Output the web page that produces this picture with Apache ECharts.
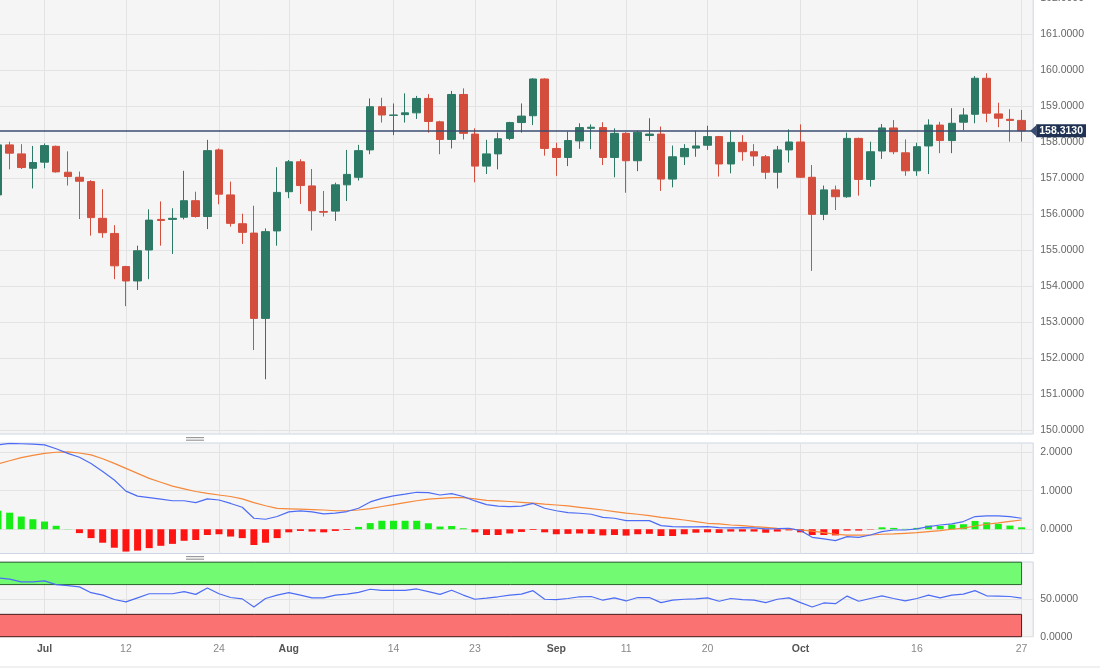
<!DOCTYPE html>
<html><head><meta charset="utf-8">
<script src="https://cdn.jsdelivr.net/npm/echarts@6/dist/echarts.min.js"></script>
<style>html,body{margin:0;padding:0;background:#fff}#c{width:1100px;height:668px}</style>
</head><body><div id="c"></div>
<script>
const dates = ['Jun 27','Jun 28','Jun 29','Jun 30','Jul 3','Jul 4','Jul 5','Jul 6','Jul 7','Jul 10','Jul 11','Jul 12','Jul 13','Jul 14','Jul 17','Jul 18','Jul 19','Jul 20','Jul 21','Jul 24','Jul 25','Jul 26','Jul 27','Jul 28','Jul 31','Aug 1','Aug 2','Aug 3','Aug 4','Aug 7','Aug 8','Aug 9','Aug 10','Aug 11','Aug 14','Aug 15','Aug 16','Aug 17','Aug 18','Aug 21','Aug 22','Aug 23','Aug 24','Aug 25','Aug 28','Aug 29','Aug 30','Aug 31','Sep 1','Sep 4','Sep 5','Sep 6','Sep 7','Sep 8','Sep 11','Sep 12','Sep 13','Sep 14','Sep 15','Sep 18','Sep 19','Sep 20','Sep 21','Sep 22','Sep 25','Sep 26','Sep 27','Sep 28','Sep 29','Oct 2','Oct 3','Oct 4','Oct 5','Oct 6','Oct 9','Oct 10','Oct 11','Oct 12','Oct 13','Oct 16','Oct 17','Oct 18','Oct 19','Oct 20','Oct 23','Oct 24','Oct 25','Oct 26','Oct 27'];

const opens = [156.53,157.92,157.67,157.27,157.44,157.88,157.16,157.02,156.90,155.88,155.46,154.54,154.14,155.00,155.85,155.85,155.91,156.37,155.93,157.78,156.53,155.73,155.47,153.10,155.53,156.62,157.45,156.78,156.07,156.08,156.81,157.02,157.78,158.98,158.74,158.76,158.81,159.21,158.56,158.07,159.32,158.22,157.33,157.67,158.10,158.54,158.73,159.75,157.82,157.57,158.03,158.38,158.40,157.57,158.24,157.48,158.18,158.22,156.97,157.59,157.83,157.91,158.15,157.39,157.99,157.73,157.59,157.16,157.78,158.00,157.02,155.99,156.67,156.48,158.10,156.96,157.75,158.39,157.70,157.20,157.89,158.47,158.04,158.55,158.77,159.77,158.78,158.63,158.60];
const closes = [157.92,157.69,157.29,157.43,157.90,157.17,157.04,156.91,155.90,155.48,154.56,154.14,154.98,155.83,155.82,155.88,156.37,155.93,157.76,156.55,155.74,155.49,153.10,155.51,156.60,157.45,156.79,156.09,156.05,156.81,157.10,157.76,158.98,158.75,158.75,158.81,159.21,158.57,158.07,159.32,158.24,157.33,157.67,158.09,158.54,158.72,159.75,157.82,157.57,158.04,158.40,158.41,157.57,158.24,157.48,158.27,158.22,156.97,157.59,157.82,157.89,158.15,157.39,157.99,157.73,157.61,157.16,157.78,158.00,157.02,155.99,156.67,156.48,158.10,156.96,157.73,158.39,157.73,157.20,157.87,158.47,158.04,158.52,158.75,159.77,158.80,158.66,158.60,158.313];
const lows = [156.35,157.24,157.25,156.71,157.27,157.15,156.79,155.86,155.40,155.34,154.19,153.44,153.89,154.19,155.12,154.89,155.85,155.90,155.58,156.27,155.65,155.17,152.22,151.41,155.12,156.44,156.28,155.54,155.93,155.81,156.36,156.93,157.66,158.54,158.19,158.54,158.64,158.26,157.66,157.82,158.07,156.88,157.11,157.24,158.05,158.26,158.47,157.62,157.06,157.33,157.81,157.80,157.36,157.02,156.59,157.19,158.03,156.64,156.74,157.36,157.59,157.78,157.04,157.13,157.48,157.33,156.97,156.71,157.43,157.00,154.42,155.83,156.11,156.45,156.51,156.76,157.53,157.66,157.06,157.06,157.11,157.69,157.69,158.33,158.52,158.55,158.41,158.01,158.01];
const highs = [158.05,158.01,157.94,157.89,157.96,157.90,157.74,157.18,156.94,156.69,155.69,154.56,155.12,156.13,156.35,156.16,157.20,156.62,158.06,157.82,156.90,156.01,156.23,155.60,157.30,157.50,157.52,157.25,156.64,156.87,157.78,157.92,159.21,159.23,159.07,159.35,159.28,159.33,158.59,159.42,159.49,158.38,158.06,158.26,158.56,159.07,159.77,159.77,157.98,158.29,158.52,158.49,158.55,158.38,158.27,158.31,158.66,158.43,157.90,157.94,158.31,158.45,158.17,158.31,158.19,157.94,157.64,157.89,158.35,158.49,157.36,156.79,156.79,158.26,158.12,158.01,158.50,158.61,158.07,157.98,158.63,158.56,158.94,158.94,159.83,159.91,159.09,158.91,158.89];

const macdLine = [2.19,2.23,2.22,2.21,2.19,2.09,1.97,1.87,1.71,1.50,1.28,0.99,0.86,0.82,0.78,0.74,0.74,0.69,0.79,0.76,0.67,0.57,0.285,0.26,0.33,0.45,0.475,0.45,0.40,0.42,0.46,0.545,0.71,0.80,0.865,0.91,0.96,0.95,0.89,0.925,0.85,0.735,0.64,0.60,0.59,0.60,0.67,0.545,0.48,0.43,0.415,0.39,0.31,0.285,0.225,0.225,0.225,0.095,0.07,0.06,0.06,0.07,0.04,0.035,0.04,0.035,0.01,0.015,0.025,-0.035,-0.21,-0.25,-0.295,-0.19,-0.21,-0.15,-0.06,-0.02,-0.02,0.01,0.07,0.11,0.14,0.20,0.33,0.345,0.345,0.33,0.285];
const signalLine = [1.70,1.78,1.86,1.92,1.97,2.00,2.01,1.98,1.93,1.83,1.71,1.58,1.45,1.32,1.22,1.12,1.05,0.98,0.93,0.89,0.85,0.79,0.69,0.61,0.54,0.53,0.52,0.51,0.50,0.48,0.48,0.50,0.535,0.59,0.64,0.69,0.74,0.78,0.80,0.82,0.82,0.79,0.75,0.735,0.72,0.70,0.68,0.65,0.63,0.605,0.57,0.535,0.50,0.46,0.42,0.39,0.355,0.31,0.275,0.24,0.20,0.155,0.14,0.11,0.095,0.07,0.05,0.025,0.01,-0.02,-0.05,-0.09,-0.13,-0.155,-0.155,-0.15,-0.13,-0.12,-0.105,-0.09,-0.06,-0.035,0.0,0.03,0.085,0.13,0.165,0.205,0.24];
const histogram = [0.48,0.43,0.33,0.26,0.20,0.09,0.005,-0.10,-0.23,-0.35,-0.48,-0.58,-0.555,-0.49,-0.43,-0.38,-0.30,-0.28,-0.15,-0.13,-0.19,-0.23,-0.41,-0.35,-0.23,-0.08,-0.044,-0.06,-0.08,-0.044,-0.02,0.06,0.16,0.22,0.22,0.22,0.22,0.155,0.07,0.085,0.025,-0.08,-0.15,-0.15,-0.11,-0.07,-0.02,-0.08,-0.13,-0.12,-0.11,-0.12,-0.16,-0.15,-0.165,-0.13,-0.12,-0.175,-0.175,-0.13,-0.09,-0.08,-0.095,-0.06,-0.06,-0.06,-0.09,-0.06,-0.03,-0.08,-0.15,-0.15,-0.16,-0.035,-0.035,-0.01,0.05,0.035,0.01,0.035,0.095,0.085,0.12,0.13,0.215,0.18,0.14,0.095,0.05];
const rsi = [79.0,77.2,73.6,73.6,74.9,70.0,68.7,66.9,59.1,55.9,49.9,46.7,52.2,57.7,57.7,57.7,60.5,56.8,65.5,57.7,52.6,50.8,39.8,51.3,55.9,59.1,55.9,52.2,52.2,55.9,57.2,59.5,63.7,62.3,62.3,62.3,64.1,60.5,56.8,62.3,55.9,50.3,51.7,53.6,55.9,57.2,61.8,50.3,49.9,51.3,53.6,54.0,49.0,52.2,48.0,52.6,52.6,45.7,49.0,50.3,50.8,52.2,47.6,51.3,49.9,49.0,45.7,50.3,52.2,45.7,39.8,45.3,44.4,54.5,47.6,51.3,54.9,51.3,48.0,51.3,55.9,52.2,55.9,57.2,61.8,54.9,54.5,54.0,51.7];

const priceTicks = [150,151,152,153,154,155,156,157,158,159,160,161,162];
const macdTicks = [0,1,2];
const rsiTicks = [0,50];
const rsiOverbought = [70,100];
const rsiOversold = [0,30];
const tickDates = ['Jul 3','Jul 12','Jul 24','Aug 1','Aug 14','Aug 23','Sep 1','Sep 11','Sep 20','Oct 2','Oct 16','Oct 27'];
const tickLabels = ['Jul','12','24','Aug','14','23','Sep','11','20','Oct','16','27'];
const lastPrice = 158.313;

const axisCats = dates.concat(['']);
const labelOf = {};
tickDates.forEach((d,i)=>{ labelOf[d] = tickLabels[i]; });
const isTick = (i) => labelOf[axisCats[i]] !== undefined;

const FONT = 'Arial, "Liberation Sans", Helvetica, sans-serif';
const GREEN = '#2c7a65', RED = '#d44e3e';
const gridStyle = {show:true, backgroundColor:'#f5f5f5', borderColor:'#cdd6e4', borderWidth:1, left:-2, right:66.8, containLabel:false, outerBoundsMode:'none'};

function xAx(gi, showLabel){
  return {type:'category', gridIndex:gi, data:axisCats, boundaryGap:false,
    axisLine:{show:false}, axisTick:{show:false},
    splitLine:{show:true, interval:(i)=>isTick(i), lineStyle:{color:'#e3e3e3', width:1}},
    axisLabel:{show:showLabel, interval:(i)=>isTick(i), margin:7, fontFamily:FONT, fontSize:10.5, hideOverlap:false,
      formatter:(v)=>{ const l = labelOf[v]; if(l===undefined) return ''; return /[A-Za-z]/.test(l) ? '{m|'+l+'}' : '{d|'+l+'}'; },
      rich:{m:{fontWeight:'bold', color:'#555', fontSize:10.5, fontFamily:FONT}, d:{color:'#888', fontSize:10.5, fontFamily:FONT}}}
  };
}
function yAx(gi, min, max, ticks){
  return {type:'value', gridIndex:gi, position:'right', min, max,
    axisLine:{show:false}, axisTick:{show:false, customValues:ticks},
    axisLabel:{customValues:ticks, margin:7, color:'#666', fontSize:10.5, fontFamily:FONT, hideOverlap:false, formatter:(v)=>v.toFixed(4)},
    splitLine:{show:true, lineStyle:{color:'#e3e3e3', width:1}}
  };
}

const chart = echarts.init(document.getElementById('c'), null, {renderer:'canvas'});
chart.setOption({
  animation:false,
  backgroundColor:'#ffffff',
  grid:[
    Object.assign({top:-10, height:444}, gridStyle),
    Object.assign({top:443, height:110.5}, gridStyle),
    Object.assign({top:562, height:74.7}, gridStyle)
  ],
  xAxis:[xAx(0,false), xAx(1,false), xAx(2,true)],
  yAxis:[yAx(0,149.8889,162.2222,priceTicks), yAx(1,-0.63,2.24,macdTicks), yAx(2,0,100.3,rsiTicks)],
  series:[
    {type:'candlestick', xAxisIndex:0, yAxisIndex:0, barWidth:8,
      data: dates.map((d,i)=>[opens[i],closes[i],lows[i],highs[i]]),
      itemStyle:{color:GREEN, color0:RED, borderColor:GREEN, borderColor0:RED, borderWidth:1},
      markLine:{silent:true, symbol:['none','triangle'], symbolSize:[11,6], symbolRotate:[0,90],
        emphasis:{disabled:true},
        lineStyle:{color:'#3a4d70', width:1.5, type:'solid'},
        label:{show:true, position:'end', distance:3, formatter:()=>lastPrice.toFixed(4), backgroundColor:'#1f3253', color:'#fff', fontWeight:'bold', fontSize:10.5, fontFamily:FONT, padding:[1,3,1,3]},
        data:[{yAxis:lastPrice}]}
    },
    {type:'bar', xAxisIndex:1, yAxisIndex:1, barWidth:7, data:histogram,
      itemStyle:{color:(p)=> p.value>=0 ? '#16ee16' : '#ff1414'}},
    {type:'line', xAxisIndex:1, yAxisIndex:1, data:signalLine, showSymbol:false, smooth:false,
      lineStyle:{color:'#f5883a', width:1.2}},
    {type:'line', xAxisIndex:1, yAxisIndex:1, data:macdLine, showSymbol:false,
      lineStyle:{color:'#4d6cf5', width:1.2}},
    {type:'line', xAxisIndex:2, yAxisIndex:2, data:rsi, showSymbol:false,
      lineStyle:{color:'#4d6cf5', width:1.2},
      markArea:{silent:true, itemStyle:{borderWidth:1, opacity:1},
        data:[
          [{xAxis:dates[0], yAxis:rsiOverbought[0], itemStyle:{color:'#72fb72', borderColor:'#2a662a', borderWidth:1}}, {xAxis:dates[dates.length-1], yAxis:rsiOverbought[1]}],
          [{xAxis:dates[0], yAxis:rsiOversold[0], itemStyle:{color:'#fa7272', borderColor:'#4a1c1c', borderWidth:1}}, {xAxis:dates[dates.length-1], yAxis:rsiOversold[1]}]
        ]}
    }
  ],
  graphic:[
    {type:'rect', shape:{x:186,y:437,width:18,height:1.2}, style:{fill:'#9a9a9a'}},
    {type:'rect', shape:{x:186,y:439.6,width:18,height:1.2}, style:{fill:'#9a9a9a'}},
    {type:'rect', shape:{x:186,y:556,width:18,height:1.2}, style:{fill:'#9a9a9a'}},
    {type:'rect', shape:{x:186,y:558.6,width:18,height:1.2}, style:{fill:'#9a9a9a'}},
    {type:'line', shape:{x1:0,y1:667,x2:1100,y2:667}, style:{stroke:'#e2e2e2', lineWidth:1}}
  ]
});
</script></body></html>
